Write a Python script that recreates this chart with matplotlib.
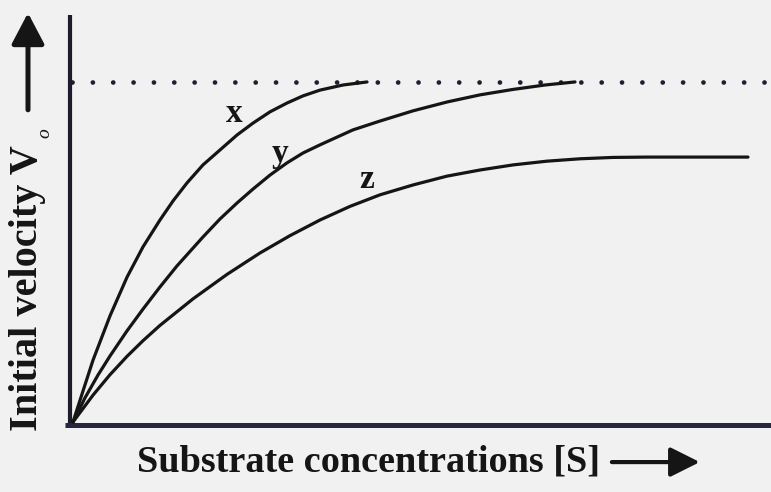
import matplotlib.pyplot as plt

# readings (substrate conc. in arbitrary units, velocity relative to Vmax)
s_x = [0, 0.143, 0.287, 0.530, 0.774, 1.003, 1.246, 1.433, 1.633, 1.862, 2.106, 2.350,
       2.579, 2.822, 3.066, 3.295, 3.539, 3.868, 4.212]
v_x = [0, 0.091, 0.182, 0.312, 0.426, 0.515, 0.594, 0.650, 0.703, 0.756, 0.800, 0.844,
       0.879, 0.912, 0.938, 0.959, 0.976, 0.991, 1.0]

s_y = [0, 0.172, 0.358, 0.530, 0.774, 1.003, 1.246, 1.490, 1.862, 2.106, 2.350, 2.579,
       2.822, 3.066, 3.295, 3.539, 4.011, 4.398, 4.871, 5.358, 5.831, 6.304, 6.762, 7.192]
v_y = [0, 0.071, 0.138, 0.194, 0.268, 0.332, 0.397, 0.459, 0.544, 0.597, 0.644, 0.685,
       0.726, 0.762, 0.791, 0.815, 0.859, 0.885, 0.915, 0.941, 0.962, 0.978, 0.991, 1.0]

s_z = [0, 0.287, 0.530, 0.774, 1.003, 1.246, 1.719, 2.206, 2.679, 3.109, 3.539, 3.968,
       4.398, 4.871, 5.358, 5.831, 6.304, 6.791, 7.264, 7.736, 8.223, 8.983, 9.670]
v_z = [0, 0.079, 0.139, 0.193, 0.239, 0.284, 0.362, 0.434, 0.497, 0.548, 0.594, 0.634,
       0.668, 0.697, 0.723, 0.741, 0.756, 0.767, 0.774, 0.778, 0.779, 0.779, 0.779]

vmax = 1.0
curve_labels = ['x', 'y', 'z']
label_pos = [(2.31, 0.882), (2.97, 0.765), (4.21, 0.688)]

bg = '#f1f1f1'
ink = '#151515'
serif = ['Liberation Serif', 'DejaVu Serif']

fig = plt.figure(figsize=(7.71, 4.92), dpi=100, facecolor=bg)
ax = fig.add_axes([0, 0, 1, 1])
ax.set_facecolor(bg)
ax.set_xlim(-1.046, 10.0)
ax.set_ylim(-0.206, 1.241)
ax.axis('off')

# axes lines
ax.plot([-0.043, -0.043], [-0.009, 1.197], color='#1c1c2c', lw=3, solid_capstyle='butt')
ax.plot([-0.115, 10.0], [-0.009, -0.009], color='#262640', lw=3.6, solid_capstyle='butt')

# Vmax dotted line
ax.plot([-0.02, 9.95], [vmax, vmax], color='#1e1e2e', lw=3.4,
        linestyle=(0, (0.01, 4.3)), dash_capstyle='round')

for s, v in [(s_x, v_x), (s_y, v_y), (s_z, v_z)]:
    ax.plot(s, v, color=ink, lw=2.3, solid_capstyle='round', solid_joinstyle='round')

for lab, (px, py) in zip(curve_labels, label_pos):
    ax.text(px, py, lab, fontsize=24, family=serif, weight='bold', color=ink,
            ha='center', va='baseline')

# axis titles and arrows
ax.text(4.23, -0.118, 'Substrate concentrations [S]', fontsize=27.5, family=serif,
        weight='bold', color=ink, ha='center', va='center')
ax.annotate('', xy=(8.98, -0.118), xytext=(7.72, -0.118),
            arrowprops=dict(arrowstyle='-|>,head_length=0.9,head_width=0.45',
                            mutation_scale=20, color=ink, lw=3, shrinkA=0, shrinkB=0))

ax.text(-0.645, 0.395, 'Initial velocity V', fontsize=29, family=serif,
        weight='bold', color=ink, ha='center', va='center', rotation=90)
ax.text(-0.40, 0.85, 'o', fontsize=14, family=serif, style='italic',
        color=ink, ha='center', va='center', rotation=90)
ax.annotate('', xy=(-0.645, 1.203), xytext=(-0.645, 0.918),
            arrowprops=dict(arrowstyle='-|>,head_length=0.95,head_width=0.5',
                            mutation_scale=20, color=ink, lw=3.6, shrinkA=0, shrinkB=0))

fig.savefig('out.png', dpi=100, facecolor=bg)
